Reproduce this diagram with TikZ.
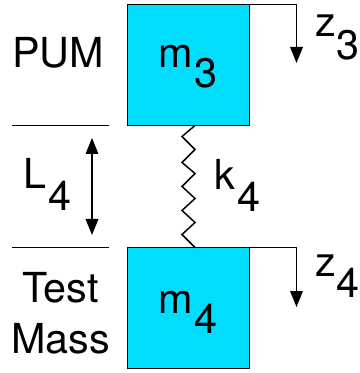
\documentclass[tikz,border=0pt]{standalone}
\usepackage{fontspec}
\setmainfont{TeX Gyre Heros}
\usepackage{xcolor}
\usetikzlibrary{arrows.meta}
\definecolor{massblue}{RGB}{0,221,255}
\newcommand{\subdown}[3]{#1\raisebox{-#3pt}{#2}}
\tikzset{
  mass/.style={draw=black, line width=1pt, fill=massblue, minimum width=91.5pt, minimum height=90.75pt, inner sep=0pt, outer sep=0pt},
  lab/.style={anchor=base west, inner sep=0pt, font=\fontsize{31pt}{36pt}\selectfont},
  wire/.style={line width=0.9pt, line join=miter},
  pointer/.style={wire, -{Triangle[length=12pt,width=9.5pt]}},
  twoway/.style={wire, {Triangle[length=12pt,width=9.5pt]}-{Triangle[length=12pt,width=9.5pt]}}
}
\begin{document}
\begin{tikzpicture}[x=0.75pt,y=-0.75pt]
\useasboundingbox (0,0) rectangle (359,373);
% The two masses
\node[mass] (mthree) at (188.5,65) {};
\node[mass] (mfour) at (188.5,308) {};
\node[lab] (mthreelab) at (158,68) {\subdown{m\kern1.5pt}{3}{15}};
\node[lab] (mfourlab) at (158,313) {\subdown{m\kern1.5pt}{4}{15}};
% Level lines on the left
\coordinate (topleft) at (12,125.5);
\coordinate (topright) at (109,125.5);
\coordinate (botleft) at (12,247.5);
\coordinate (botright) at (109,247.5);
\draw[wire] (topleft) -- (topright);
\draw[wire] (botleft) -- (botright);
% Length arrow
\coordinate (lenup) at (92,138);
\coordinate (lendown) at (92,235);
\draw[twoway] (lenup) -- (lendown);
% Spring between the masses
\coordinate (springtop) at (195,125.5);
\coordinate (springbot) at (195,247.5);
\draw[wire, line width=1.1pt] (springtop) -- ++(-13,11) -- ++(13,13) -- ++(-13,13) -- ++(13,11) -- ++(-13,13) -- ++(13,12) -- ++(-13,12) -- ++(13,12) -- ++(-13,12) -- (springbot);
% Displacement arrows
\coordinate (zthreeend) at (296.5,63);
\coordinate (zfourend) at (296.5,307);
\draw[pointer] (mthree.north east) -| (zthreeend);
\draw[pointer] (mfour.north east) -| (zfourend);
% Labels
\node[lab] (zthree) at (315.3,37) {\subdown{z}{3}{17}};
\node[lab] (zfour) at (315.3,276) {\subdown{z}{4}{16}};
\node[lab] (kfour) at (214.5,190) {\subdown{k\kern1.5pt}{4}{16}};
\node[lab] (lfour) at (23.5,189) {\subdown{L\kern1.5pt}{4}{16}};
\node[lab] (pum) at (12,68) {PUM};
\node[lab, anchor=base] (test) at (60.5,302) {Test};
\node[lab, anchor=base] (masslab) at (60.5,353) {Mass};
\end{tikzpicture}
\end{document}
